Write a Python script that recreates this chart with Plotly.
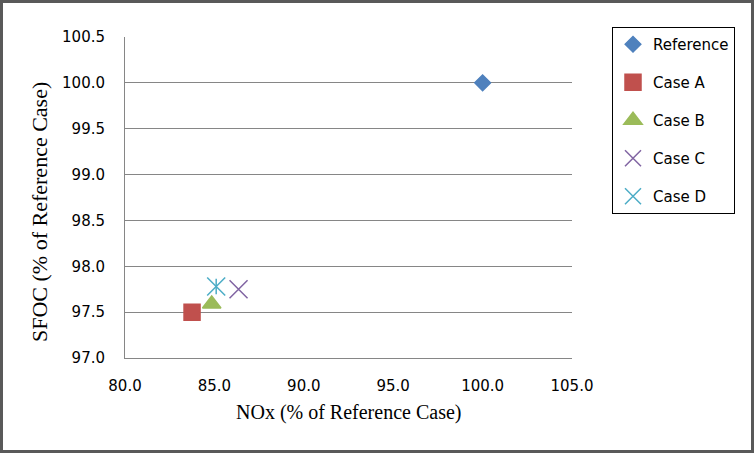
import plotly.graph_objects as go

# Data
series_names = ["Reference", "Case A", "Case B", "Case C", "Case D"]
nox_values = [100.0, 83.75, 84.85, 86.35, 85.1]
sfoc_values = [100.0, 97.5, 97.59, 97.75, 97.78]
colors = ["#4F81BD", "#C0504D", "#9BBB59", "#8064A2", "#4BACC6"]

x_ticks = [80, 85, 90, 95, 100, 105]
y_ticks = [97.0, 97.5, 98.0, 98.5, 99.0, 99.5, 100.0, 100.5]

W, H = 754, 453
L, R, T, B = 125, 182, 37, 95
PW, PH = W - L - R, H - T - B


def px_to_paper_x(px):
    return (px - L) / PW


def px_to_paper_y(py):
    return 1 - (py - T) / PH


fig = go.Figure()

symbols = ["diamond", "square", "triangle-up", "x-thin-open", "x-thin-open"]
sizes = [12, 16, 16, 18, 18]
for i, name in enumerate(series_names):
    fig.add_trace(go.Scatter(
        x=[nox_values[i]], y=[sfoc_values[i]], mode="markers", name=name,
        legendgroup=name,
        marker=dict(symbol=symbols[i], size=sizes[i], color=colors[i],
                    line=dict(width=1.5, color=colors[i])),
    ))
    if name == "Case D":
        fig.add_trace(go.Scatter(
            x=[nox_values[i]], y=[sfoc_values[i]], mode="markers", name=name,
            legendgroup=name, showlegend=False,
            marker=dict(symbol="line-ns-open", size=11, color=colors[i],
                        line=dict(width=1.5, color=colors[i])),
        ))

tick_font = dict(family="DejaVu Sans", size=15, color="#000000")

fig.update_xaxes(
    range=[80, 105], tickvals=x_ticks, ticktext=[f"{v:.1f}" for v in x_ticks],
    showgrid=False, zeroline=False, showline=True, linecolor="#868686", linewidth=1,
    ticks="outside", ticklen=6, tickcolor="rgba(0,0,0,0)",
    tickfont=tick_font, ticklabelstandoff=8,
)
fig.update_yaxes(
    range=[97.0, 100.5], tickvals=y_ticks, ticktext=[f"{v:.1f}" for v in y_ticks],
    showgrid=True, gridcolor="#868686", gridwidth=1, zeroline=False,
    showline=True, linecolor="#868686", linewidth=1,
    ticks="", tickfont=tick_font, ticklabelstandoff=16,
)

fig.add_annotation(
    text="NOx (% of Reference Case)", xref="paper", yref="paper",
    x=px_to_paper_x(348), y=px_to_paper_y(412), showarrow=False,
    font=dict(family="Liberation Serif", size=20, color="#000000"),
    xanchor="center", yanchor="middle",
)
fig.add_annotation(
    text="SFOC (% of Reference Case)", xref="paper", yref="paper",
    x=px_to_paper_x(40), y=px_to_paper_y(212), showarrow=False,
    font=dict(family="Liberation Serif", size=22, color="#000000"),
    xanchor="center", yanchor="middle", textangle=-90,
)

# Chart-area border
fig.add_shape(
    type="rect", xref="paper", yref="paper",
    x0=px_to_paper_x(1.5), x1=px_to_paper_x(752.5),
    y0=px_to_paper_y(451.5), y1=px_to_paper_y(1.5),
    line=dict(color="#595959", width=3), layer="above",
)

fig.update_layout(
    width=W, height=H,
    margin=dict(l=L, r=R, t=T, b=B),
    paper_bgcolor="white", plot_bgcolor="white",
    showlegend=True,
    legend=dict(
        x=px_to_paper_x(612), y=px_to_paper_y(27), xanchor="left", yanchor="top",
        bordercolor="#000000", borderwidth=1, bgcolor="white",
        font=dict(family="DejaVu Sans", size=15, color="#000000"),
        tracegroupgap=15.5, traceorder="grouped", itemwidth=30,
    ),
)

fig.write_html("out.html")
